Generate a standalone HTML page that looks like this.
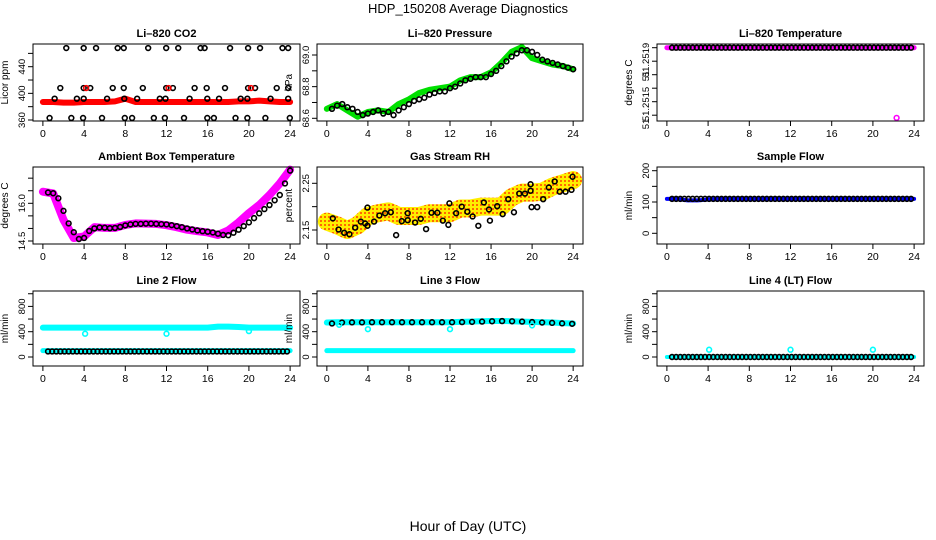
<!DOCTYPE html>
<html><head><meta charset="utf-8">
<style>
body{margin:0;background:#fff}
svg{display:block}
text{font-family:"Liberation Sans",sans-serif}
</style></head>
<body>
<svg id="c" width="936" height="540" viewBox="0 0 936 540">
<defs>
<pattern id="chk" width="4" height="4" patternUnits="userSpaceOnUse">
<rect width="4" height="4" fill="#ffee00"/><rect width="2" height="2" fill="#ff6a00"/>
</pattern>
</defs>
<text x="468" y="13" font-size="13" text-anchor="middle">HDP_150208  Average Diagnostics</text>
<text x="468" y="531" font-size="14" text-anchor="middle">Hour of Day (UTC)</text>
</svg>
<script>
// ---- data ----
const hourTicks=[0,4,8,12,16,20,24];
const co2Band=[387,387,386,386,387,387,387,388,392,387,387,387,387,387,387,387,387,387,387,388,388,389,388,387,387];
const co2Hours=[2.27,3.96,5.16,7.26,7.85,10.22,11.97,13.14,15.31,15.7,18.17,19.92,21.08,23.26,23.81,1.69,3.96,4.6,6.78,7.85,9.7,11.97,12.62,14.73,15.9,17.68,19.92,20.6,22.7,23.81,1.14,3.3,3.96,6.23,7.9,9.15,11.35,11.9,14.24,15.96,17.1,19.2,19.85,22.1,23.81,0.65,2.76,3.9,5.74,7.95,8.66,10.77,11.84,13.7,15.96,16.6,18.7,19.85,21.6,23.97];
const co2Vals=[468,468,468,468,468,468,468,468,468,468,468,468,468,468,468,408,408,408,408,408,408,408,408,408,408,408,408,408,408,408,392,392,392,392,392,392,392,392,392,392,392,392,392,392,392,363,363,363,363,363,363,363,363,363,363,363,363,363,363,363];
const co2RedHours=[4.2,12.2,20.2];
const co2RedVals=[408,408,408];
const presBand=[68.66,68.69,68.65,68.61,68.64,68.65,68.64,68.69,68.72,68.76,68.78,68.79,68.80,68.84,68.86,68.86,68.89,68.95,69.02,69.05,68.98,68.96,68.94,68.93,68.91];
const presVals=[68.66,68.68,68.69,68.67,68.66,68.64,68.62,68.63,68.64,68.65,68.63,68.64,68.62,68.65,68.67,68.69,68.71,68.72,68.73,68.75,68.76,68.77,68.77,68.79,68.80,68.82,68.84,68.85,68.86,68.86,68.86,68.88,68.90,68.93,68.96,68.99,69.01,69.03,69.03,69.02,69.00,68.97,68.96,68.95,68.94,68.93,68.92,68.91];
const tempBand=[51.2519,51.2519,51.2519,51.2519,51.2519,51.2519,51.2519,51.2519,51.2519,51.2519,51.2519,51.2519,51.2519,51.2519,51.2519,51.2519,51.2519,51.2519,51.2519,51.2519,51.2519,51.2519,51.2519,51.2519,51.2519];
const tempOutHours=[22.3];
const tempOutVals=[51.25138];
const ambBand=[16.46,16.39,15.34,14.62,14.68,15.05,15.02,15.02,15.14,15.2,15.19,15.18,15.13,15.05,14.95,14.89,14.84,14.74,14.92,15.24,15.61,15.93,16.33,16.79,17.34];
const ambVals=[16.43,16.40,16.2,15.7,15.2,14.85,14.58,14.62,14.9,15.0,15.04,15.03,15.01,15.02,15.06,15.12,15.16,15.18,15.18,15.19,15.19,15.18,15.17,15.16,15.13,15.09,15.05,15.0,14.96,14.92,14.89,14.87,14.84,14.79,14.74,14.73,14.83,14.95,15.09,15.24,15.41,15.6,15.77,15.93,16.12,16.33,16.79,17.3];
const rhBand=[2.168,2.16,2.15,2.16,2.18,2.186,2.19,2.18,2.18,2.18,2.186,2.186,2.186,2.196,2.196,2.20,2.20,2.20,2.22,2.23,2.23,2.232,2.243,2.25,2.257];
const rhHours=[0.58,1.14,1.69,2.2,2.76,3.31,3.73,3.96,3.96,4.6,5.12,5.68,6.23,6.75,7.3,7.88,7.88,8.6,9.15,9.67,10.2,10.77,11.3,11.84,11.94,12.6,13.14,13.69,14.2,14.76,15.3,15.8,15.89,16.6,17.13,17.68,18.23,18.75,19.3,19.85,19.85,19.95,20.5,21.08,21.63,22.2,22.7,23.26,23.84,23.94];
const rhVals=[2.175,2.151,2.144,2.141,2.155,2.168,2.164,2.159,2.198,2.168,2.181,2.186,2.188,2.139,2.169,2.186,2.171,2.166,2.174,2.152,2.187,2.187,2.17,2.161,2.207,2.186,2.2,2.189,2.179,2.159,2.209,2.194,2.17,2.201,2.184,2.216,2.188,2.228,2.228,2.248,2.234,2.199,2.199,2.216,2.241,2.254,2.232,2.232,2.236,2.264];
const sampBand=[110,110,105,105,108,110,110,110,110,110,110,110,110,110,110,110,110,110,110,110,110,110,110,110,110];
const sampVal=[110];
const l2Band=[465,465,465,465,465,465,465,465,465,465,465,465,465,465,465,465,465,480,480,475,465,465,465,465,465];
const l2Low=[100,100,100,100,100,100,100,100,100,100,100,100,100,100,100,100,100,100,100,100,100,100,100,100,100];
const l2Val=[88];
const l2DipHours=[4.1,12.0,20.0];
const l2DipVals=[368,368,410];
const l3Band=[545,550,550,550,550,550,550,550,550,550,550,550,550,555,560,565,570,570,565,560,555,550,545,535,530];
const l3Vals=[530,545,548,548,550,550,550,550,550,550,550,550,550,552,555,560,565,568,565,560,552,545,540,532,525];
const l3Low=[100,100,100,100,100,100,100,100,100,100,100,100,100,100,100,100,100,100,100,100,100,100,100,100,100];
const l3DipHours=[1.2,4.0,12.0,20.0];
const l3DipVals=[510,440,440,500];
const l4Val=[0];
const l4DipHours=[4.1,12.0,20.0];
const l4DipVals=[115,115,115];

const svg=document.getElementById('c');
const NS='http://www.w3.org/2000/svg';
function mk(tag,at,parent){const e=document.createElementNS(NS,tag);for(const k in at)e.setAttribute(k,at[k]);(parent||svg).appendChild(e);return e;}

function panel(o){
  const g=mk('g',{});
  
  
  const L=o.box[0],T=o.box[1],R=o.box[2],B=o.box[3];
  const xs=h=>L+(h+0.96)*(R-L)/25.92;
  const ys=v=>o.py[0]+(v-o.v[0])*(o.py[1]-o.py[0])/(o.v[1]-o.v[0]);
  o.draw(g,xs,ys);
  const fr=mk('rect',{x:L,y:T,width:R-L,height:B-T,fill:'none',stroke:'#000','stroke-width':1},g);
  
  
  const t=mk('text',{x:(L+R)/2,y:T-7,'font-size':11,'font-weight':'bold','text-anchor':'middle'},g);
  t.textContent=o.title;
  
  
  hourTicks.forEach(h=>{
    mk('line',{x1:xs(h),x2:xs(h),y1:B,y2:B+5,stroke:'#000'},g);
    const l=mk('text',{x:xs(h),y:B+16,'font-size':10.5,'text-anchor':'middle'},g);
    l.textContent=h;
    
    
  });
  o.yt.forEach(v=>mk('line',{x1:L-5,x2:L,y1:ys(v),y2:ys(v),stroke:'#000'},g));
  o.yl.forEach((v,i)=>{
    const y=o.ylPos?o.ylPos[i]:ys(v);
    const l=mk('text',{x:L-8,y:y,'font-size':9.5,'text-anchor':'middle',transform:`rotate(-90 ${L-8} ${y})`},g);
    l.textContent=o.ylText?o.ylText[i]:v;
    
    
  });
  const yt=mk('text',{x:L-25,y:(T+B)/2,'font-size':10,'text-anchor':'middle',transform:`rotate(-90 ${L-25} ${(T+B)/2})`},g);
  yt.textContent=o.ytitle;
  
  
}
function band(g,xs,ys,arr,color,w,name){
  const p=mk('polyline',{points:arr.map((v,i)=>xs(i)+','+ys(v)).join(' '),fill:'none',stroke:color,'stroke-width':w,'stroke-linejoin':'round','stroke-linecap':'round'},g);
  
  
}
function pts(g,xs,ys,hrs,vals,color,name){
  hrs.forEach((h,i)=>{
    const c=mk('circle',{cx:xs(h),cy:ys(vals[i]),r:2.4,fill:'none',stroke:color,'stroke-width':1.6},g);
    
    
  });
}
const halfHours=n=>Array.from({length:n},(_,i)=>0.5+i*0.5);
function flat(g,xs,ys,val,color,name){
  const hrs=[];for(let h=0.5;h<=24.01;h+=0.4)hrs.push(h);
  pts(g,xs,ys,hrs,hrs.map(()=>val),color,name);
}

const C1=[33,300],C2=[317,583],C3=[657,924];
const R1=[44,121],R2=[167,244],R3=[291,366];

panel({name:'panel-co2',title:'Li\u2013820 CO2',ytitle:'Licor ppm',box:[C1[0],R1[0],C1[1],R1[1]],v:[360,440],py:[120,66.7],
  yt:[360,380,400,420,440,460],yl:[360,400,440],
  draw:(g,xs,ys)=>{band(g,xs,ys,co2Band,'#ff0000',6,'co2-band');pts(g,xs,ys,co2Hours,co2Vals,'#000','co2-point');pts(g,xs,ys,co2RedHours,co2RedVals,'#ff0000','co2-red-point');}});
panel({name:'panel-pressure',title:'Li\u2013820 Pressure',ytitle:'kPa',box:[C2[0],R1[0],C2[1],R1[1]],v:[69.0,68.6],py:[55,118.3],
  yt:[68.6,68.7,68.8,68.9,69.0],yl:[68.6,68.8,69.0],ylText:['68.6','68.8','69.0'],
  draw:(g,xs,ys)=>{band(g,xs,ys,presBand,'#00e000',6,'pressure-band');pts(g,xs,ys,halfHours(presVals.length),presVals,'#000','pressure-point');}});
panel({name:'panel-li820-temp',title:'Li\u2013820 Temperature',ytitle:'degrees C',box:[C3[0],R1[0],C3[1],R1[1]],v:[51.2519,51.2515],py:[47.7,101.7],
  yt:[51.2519,51.2518,51.2517,51.2516,51.2515,51.2514],yl:[51.2519,51.2517,51.2515,51.2514],ylPos:[60,76,104,124],ylText:['51.2519','51','51.2515','51'],
  draw:(g,xs,ys)=>{band(g,xs,ys,tempBand,'#ff00ff',5,'temp-band');flat(g,xs,ys,51.2519,'#000','temp-point');pts(g,xs,ys,tempOutHours,tempOutVals,'#ff00ff','temp-outlier');}});
panel({name:'panel-ambient',title:'Ambient Box Temperature',ytitle:'degrees C',box:[C1[0],R2[0],C1[1],R2[1]],v:[16.0,14.5],py:[203.3,241],
  yt:[14.5,15,15.5,16,16.5,17],yl:[14.5,16.0],ylText:['14.5','16.0'],
  draw:(g,xs,ys)=>{band(g,xs,ys,ambBand,'#ff00ff',8,'ambient-band');pts(g,xs,ys,halfHours(ambVals.length),ambVals,'#000','ambient-point');}});
panel({name:'panel-rh',title:'Gas Stream RH',ytitle:'percent',box:[C2[0],R2[0],C2[1],R2[1]],v:[2.25,2.15],py:[183.3,230],
  yt:[2.15,2.20,2.25],yl:[2.15,2.25],ylText:['2.15','2.25'],
  draw:(g,xs,ys)=>{band(g,xs,ys,rhBand,'url(#chk)',18,'rh-band');pts(g,xs,ys,rhHours,rhVals,'#000','rh-point');}});
panel({name:'panel-sample-flow',title:'Sample Flow',ytitle:'ml/min',box:[C3[0],R2[0],C3[1],R2[1]],v:[200,0],py:[170.7,233.3],
  yt:[0,50,100,150,200],yl:[0,100,200],
  draw:(g,xs,ys)=>{band(g,xs,ys,sampBand,'#0000ff',4,'sample-band');flat(g,xs,ys,sampVal[0],'#000','sample-point');}});
const fv={v:[0,400],py:[357,331.7],yt:[0,200,400,600,800,1000],yl:[0,400,800]};
panel(Object.assign({name:'panel-line2',title:'Line 2 Flow',ytitle:'ml/min',box:[C1[0],R3[0],C1[1],R3[1]],
  draw:(g,xs,ys)=>{band(g,xs,ys,l2Band,'#00ffff',6,'line2-band');band(g,xs,ys,l2Low,'#00ffff',5,'line2-low-band');flat(g,xs,ys,l2Val[0],'#000','line2-point');pts(g,xs,ys,l2DipHours,l2DipVals,'#00ffff','line2-dip');}},fv));
panel(Object.assign({name:'panel-line3',title:'Line 3 Flow',ytitle:'ml/min',box:[C2[0],R3[0],C2[1],R3[1]],
  draw:(g,xs,ys)=>{band(g,xs,ys,l3Band,'#00ffff',6,'line3-band');band(g,xs,ys,l3Low,'#00ffff',5,'line3-low-band');pts(g,xs,ys,l3Vals.map((_,i)=>0.5+i*0.975),l3Vals,'#000','line3-point');pts(g,xs,ys,l3DipHours,l3DipVals,'#00ffff','line3-dip');}},fv));
panel(Object.assign({name:'panel-line4',title:'Line 4 (LT) Flow',ytitle:'ml/min',box:[C3[0],R3[0],C3[1],R3[1]],
  draw:(g,xs,ys)=>{band(g,xs,ys,l4Val.concat(Array(24).fill(l4Val[0])),'#00ffff',4,'line4-band');flat(g,xs,ys,l4Val[0],'#000','line4-point');pts(g,xs,ys,l4DipHours,l4DipVals,'#00ffff','line4-dip');}},fv));
</script>
</body></html>
